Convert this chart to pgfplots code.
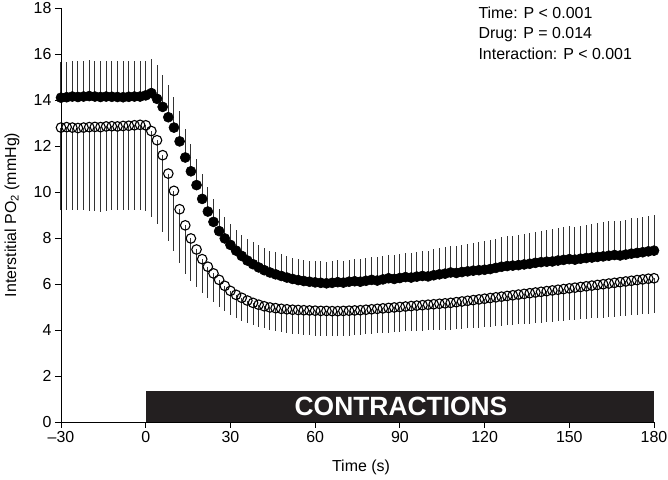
\documentclass[border=0pt]{standalone}
\usepackage{fontspec}
\setmainfont{Liberation Sans}
\usepackage{pgfplots}
\usepackage{pgfplotstable}
\pgfplotsset{compat=1.18}
\definecolor{barblack}{HTML}{231F20}
\pgfplotstableread{
t f fe o oe
-30 14.10 1.55 12.80 3.60
-28 14.12 1.55 12.82 3.62
-26 14.15 1.56 12.80 3.60
-24 14.13 1.55 12.78 3.58
-22 14.15 1.56 12.80 3.60
-20 14.17 1.55 12.82 3.66
-18 14.15 1.56 12.83 3.65
-16 14.13 1.55 12.82 3.68
-14 14.15 1.55 12.85 3.66
-12 14.14 1.56 12.86 3.65
-10 14.13 1.55 12.85 3.63
-8 14.12 1.56 12.87 3.64
-6 14.14 1.55 12.88 3.66
-4 14.15 1.54 12.90 3.68
-2 14.15 1.53 12.92 3.70
0 14.20 1.50 12.90 3.72
2 14.30 1.50 12.65 3.72
4 14.05 1.45 12.25 3.62
6 13.70 1.40 11.60 3.35
8 13.25 1.38 10.80 2.95
10 12.80 1.35 10.05 2.62
12 12.20 1.30 9.25 2.35
14 11.50 1.25 8.55 2.12
16 10.90 1.20 7.98 1.85
18 10.30 1.15 7.50 1.65
20 9.70 1.10 7.08 1.48
22 9.15 1.05 6.75 1.36
24 8.70 1.00 6.46 1.26
26 8.30 0.96 6.18 1.17
28 7.98 0.92 5.92 1.10
30 7.70 0.90 5.70 1.05
32 7.45 0.90 5.53 1.02
34 7.22 0.92 5.40 1.00
36 7.02 0.93 5.28 0.98
38 6.86 0.95 5.18 0.97
40 6.72 0.96 5.10 0.96
42 6.60 0.96 5.03 0.96
44 6.50 0.95 4.98 0.97
46 6.42 0.95 4.95 0.98
48 6.35 0.94 4.92 1.00
50 6.28 0.94 4.90 1.02
52 6.22 0.93 4.88 1.04
54 6.17 0.92 4.87 1.06
56 6.13 0.92 4.86 1.07
58 6.10 0.92 4.85 1.08
60 6.07 0.93 4.84 1.08
62 6.05 0.93 4.83 1.09
64 6.03 0.94 4.83 1.09
66 6.05 0.94 4.82 1.09
68 6.08 0.95 4.82 1.08
70 6.06 0.96 4.83 1.08
72 6.10 0.96 4.84 1.08
74 6.12 0.97 4.85 1.07
76 6.10 0.98 4.86 1.07
78 6.14 0.99 4.88 1.07
80 6.18 1.00 4.90 1.07
82 6.15 1.01 4.92 1.07
84 6.20 1.02 4.94 1.07
86 6.25 1.03 4.96 1.07
88 6.22 1.04 4.98 1.07
90 6.26 1.05 5.00 1.07
92 6.30 1.06 5.02 1.08
94 6.28 1.07 5.04 1.09
96 6.32 1.08 5.06 1.10
98 6.35 1.09 5.08 1.11
100 6.33 1.10 5.10 1.12
102 6.38 1.12 5.12 1.13
104 6.42 1.13 5.14 1.14
106 6.45 1.15 5.16 1.15
108 6.50 1.16 5.18 1.16
110 6.48 1.18 5.21 1.17
112 6.52 1.19 5.24 1.18
114 6.55 1.20 5.27 1.19
116 6.58 1.22 5.30 1.21
118 6.60 1.24 5.33 1.23
120 6.62 1.25 5.36 1.24
122 6.65 1.26 5.39 1.25
124 6.70 1.27 5.42 1.26
126 6.75 1.28 5.45 1.27
128 6.78 1.29 5.48 1.28
130 6.80 1.30 5.51 1.29
132 6.82 1.31 5.54 1.30
134 6.85 1.32 5.57 1.31
136 6.88 1.34 5.60 1.32
138 6.92 1.35 5.63 1.33
140 6.95 1.37 5.66 1.34
142 6.97 1.38 5.69 1.35
144 6.98 1.39 5.72 1.36
146 7.02 1.40 5.75 1.37
148 7.05 1.41 5.78 1.38
150 7.08 1.42 5.81 1.39
152 7.06 1.43 5.84 1.40
154 7.10 1.44 5.87 1.41
156 7.13 1.45 5.90 1.42
158 7.15 1.46 5.93 1.43
160 7.18 1.47 5.96 1.44
162 7.20 1.48 5.99 1.45
164 7.23 1.49 6.02 1.46
166 7.26 1.50 6.05 1.47
168 7.24 1.51 6.08 1.48
170 7.28 1.52 6.11 1.49
172 7.32 1.53 6.14 1.50
174 7.35 1.54 6.17 1.50
176 7.38 1.54 6.20 1.51
178 7.42 1.55 6.23 1.52
180 7.45 1.55 6.25 1.52
}\datatable
\begin{document}
\begin{tikzpicture}[x=1bp,y=1bp]
\begin{axis}[
  at={(0,0)}, anchor=south west,
  scale only axis, width=593bp, height=414bp,
  xmin=-30, xmax=180, ymin=0, ymax=18,
  axis lines*=left,
  axis line style={line width=0.9bp},
  tick style={line width=0.9bp, black},
  tick align=outside, major tick length=6bp,
  xtick={-30,0,30,60,90,120,150,180},
  xticklabels={–30,0,30,60,90,120,150,180},
  ytick={0,2,...,18},
  /pgf/number format/assume math mode=true,
  ticklabel style={font=\fontsize{16}{18}\selectfont},
  clip=false,
]
\addplot[fill=barblack, draw=none] coordinates {(0,0) (0,1.36) (180,1.36) (180,0)} -- cycle;
\node[text=white, font=\fontsize{26.5}{28}\selectfont\bfseries] at (axis cs:90.4,0.68) {CONTRACTIONS};
\addplot[only marks, mark=*, mark size=5bp, mark options={fill=black, draw=black, line width=0.6bp},
  error bars/.cd, y dir=plus, y explicit,
  error mark=none, error bar style={line width=1bp, black!80}]
  table[x=t, y=f, y error=fe] {\datatable};
\addplot[only marks, mark=o, mark size=4.8bp, mark options={fill=white, draw=black, line width=1.1bp},
  error bars/.cd, y dir=minus, y explicit,
  error mark=none, error bar style={line width=1bp, black!80}]
  table[x=t, y=o, y error=oe] {\datatable};
\end{axis}
\node[rotate=90, font=\fontsize{16}{18}\selectfont] at (-49,207) {Interstitial PO\textsubscript{2} (mmHg)};
\node[font=\fontsize{16}{18}\selectfont] at (300,-45) {Time (s)};
\node[anchor=north west, align=left, font=\fontsize{16}{21}\selectfont] at (414,419) {Time: P < 0.001\\Drug: P = 0.014\\Interaction: P < 0.001};
\pgfresetboundingbox
\path[use as bounding box] (-61,-58) rectangle (607,422);
\end{tikzpicture}
\end{document}
